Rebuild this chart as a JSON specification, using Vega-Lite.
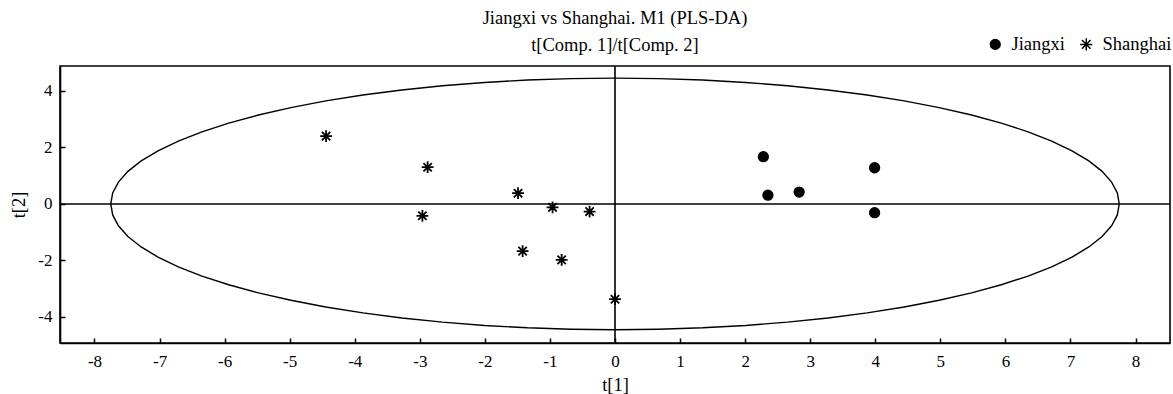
{
  "$schema": "https://vega.github.io/schema/vega-lite/v6.json",
  "width": 1110,
  "height": 277,
  "autosize": {"type": "none"},
  "padding": {"left": 60, "top": 66, "right": 3, "bottom": 51},
  "background": "white",
  "title": {
    "text": ["Jiangxi vs Shanghai. M1 (PLS-DA)", "t[Comp. 1]/t[Comp. 2]"],
    "font": "Liberation Serif",
    "fontSize": 18.5,
    "fontWeight": "normal",
    "color": "black",
    "lineHeight": 27,
    "anchor": "middle",
    "offset": 8,
    "dy": 27
  },
  "datasets": {
    "pts": [
      {"t1": 2.28, "t2": 1.67, "group": "Jiangxi"},
      {"t1": 2.35, "t2": 0.31, "group": "Jiangxi"},
      {"t1": 2.83, "t2": 0.42, "group": "Jiangxi"},
      {"t1": 3.99, "t2": 1.28, "group": "Jiangxi"},
      {"t1": 3.99, "t2": -0.31, "group": "Jiangxi"},
      {"t1": -4.44, "t2": 2.4, "group": "Shanghai"},
      {"t1": -2.88, "t2": 1.3, "group": "Shanghai"},
      {"t1": -2.96, "t2": -0.42, "group": "Shanghai"},
      {"t1": -1.49, "t2": 0.38, "group": "Shanghai"},
      {"t1": -0.96, "t2": -0.12, "group": "Shanghai"},
      {"t1": -0.39, "t2": -0.27, "group": "Shanghai"},
      {"t1": -1.42, "t2": -1.67, "group": "Shanghai"},
      {"t1": -0.82, "t2": -1.98, "group": "Shanghai"},
      {"t1": 0.0, "t2": -3.37, "group": "Shanghai"}
    ],
    "ell": [
      {"o": 0, "x": 7.75, "y": 0},
      {"o": 1, "x": 7.7205, "y": 0.3879},
      {"o": 2, "x": 7.6323, "y": 0.7727},
      {"o": 3, "x": 7.486, "y": 1.1517},
      {"o": 4, "x": 7.2826, "y": 1.522},
      {"o": 5, "x": 7.0239, "y": 1.8807},
      {"o": 6, "x": 6.7117, "y": 2.225},
      {"o": 7, "x": 6.3484, "y": 2.5524},
      {"o": 8, "x": 5.9368, "y": 2.8604},
      {"o": 9, "x": 5.4801, "y": 3.1466},
      {"o": 10, "x": 4.9816, "y": 3.4089},
      {"o": 11, "x": 4.4452, "y": 3.6452},
      {"o": 12, "x": 3.875, "y": 3.8538},
      {"o": 13, "x": 3.2753, "y": 4.0331},
      {"o": 14, "x": 2.6507, "y": 4.1816},
      {"o": 15, "x": 2.0059, "y": 4.2984},
      {"o": 16, "x": 1.3458, "y": 4.3824},
      {"o": 17, "x": 0.6755, "y": 4.433},
      {"o": 18, "x": 0, "y": 4.45},
      {"o": 19, "x": -0.6755, "y": 4.433},
      {"o": 20, "x": -1.3458, "y": 4.3824},
      {"o": 21, "x": -2.0059, "y": 4.2984},
      {"o": 22, "x": -2.6507, "y": 4.1816},
      {"o": 23, "x": -3.2753, "y": 4.0331},
      {"o": 24, "x": -3.875, "y": 3.8538},
      {"o": 25, "x": -4.4452, "y": 3.6452},
      {"o": 26, "x": -4.9816, "y": 3.4089},
      {"o": 27, "x": -5.4801, "y": 3.1466},
      {"o": 28, "x": -5.9368, "y": 2.8604},
      {"o": 29, "x": -6.3484, "y": 2.5524},
      {"o": 30, "x": -6.7117, "y": 2.225},
      {"o": 31, "x": -7.0239, "y": 1.8807},
      {"o": 32, "x": -7.2826, "y": 1.522},
      {"o": 33, "x": -7.486, "y": 1.1517},
      {"o": 34, "x": -7.6323, "y": 0.7727},
      {"o": 35, "x": -7.7205, "y": 0.3879},
      {"o": 36, "x": -7.75, "y": 0},
      {"o": 37, "x": -7.7205, "y": -0.3879},
      {"o": 38, "x": -7.6323, "y": -0.7727},
      {"o": 39, "x": -7.486, "y": -1.1517},
      {"o": 40, "x": -7.2826, "y": -1.522},
      {"o": 41, "x": -7.0239, "y": -1.8807},
      {"o": 42, "x": -6.7117, "y": -2.225},
      {"o": 43, "x": -6.3484, "y": -2.5524},
      {"o": 44, "x": -5.9368, "y": -2.8604},
      {"o": 45, "x": -5.4801, "y": -3.1466},
      {"o": 46, "x": -4.9816, "y": -3.4089},
      {"o": 47, "x": -4.4452, "y": -3.6452},
      {"o": 48, "x": -3.875, "y": -3.8538},
      {"o": 49, "x": -3.2753, "y": -4.0331},
      {"o": 50, "x": -2.6507, "y": -4.1816},
      {"o": 51, "x": -2.0059, "y": -4.2984},
      {"o": 52, "x": -1.3458, "y": -4.3824},
      {"o": 53, "x": -0.6755, "y": -4.433},
      {"o": 54, "x": 0, "y": -4.45},
      {"o": 55, "x": 0.6755, "y": -4.433},
      {"o": 56, "x": 1.3458, "y": -4.3824},
      {"o": 57, "x": 2.0059, "y": -4.2984},
      {"o": 58, "x": 2.6507, "y": -4.1816},
      {"o": 59, "x": 3.2753, "y": -4.0331},
      {"o": 60, "x": 3.875, "y": -3.8538},
      {"o": 61, "x": 4.4452, "y": -3.6452},
      {"o": 62, "x": 4.9816, "y": -3.4089},
      {"o": 63, "x": 5.4801, "y": -3.1466},
      {"o": 64, "x": 5.9368, "y": -2.8604},
      {"o": 65, "x": 6.3484, "y": -2.5524},
      {"o": 66, "x": 6.7117, "y": -2.225},
      {"o": 67, "x": 7.0239, "y": -1.8807},
      {"o": 68, "x": 7.2826, "y": -1.522},
      {"o": 69, "x": 7.486, "y": -1.1517},
      {"o": 70, "x": 7.6323, "y": -0.7727},
      {"o": 71, "x": 7.7205, "y": -0.3879},
      {"o": 72, "x": 7.75, "y": 0}
    ],
    "zero": [{"v": 0}]
  },
  "layer": [
    {
      "data": {"name": "ell"},
      "mark": {"type": "line", "color": "black", "strokeWidth": 1.4, "interpolate": "linear"},
      "encoding": {
        "x": {"field": "x", "type": "quantitative", "title": "t[1]",
              "scale": {"domain": [-8.53, 8.53], "nice": false, "zero": false},
              "axis": {"values": [-8, -7, -6, -5, -4, -3, -2, -1, 0, 1, 2, 3, 4, 5, 6, 7, 8], "labelExpr": "datum.value + ''", "labelPadding": 15, "titlePadding": 6}},
        "y": {"field": "y", "type": "quantitative", "title": "t[2]",
              "scale": {"domain": [-4.92, 4.88], "nice": false, "zero": false},
              "axis": {"values": [-4, -2, 0, 2, 4], "labelExpr": "datum.value + ''", "labelPadding": 13, "titlePadding": 9}},
        "order": {"field": "o", "type": "quantitative"}
      }
    },
    {
      "data": {"name": "zero"},
      "mark": {"type": "rule", "color": "black", "strokeWidth": 1.6},
      "encoding": {
        "x": {"field": "v", "type": "quantitative", "title": "t[1]"}
      }
    },
    {
      "data": {"name": "zero"},
      "mark": {"type": "rule", "color": "black", "strokeWidth": 1.6},
      "encoding": {
        "y": {"field": "v", "type": "quantitative", "title": "t[2]"}
      }
    },
    {
      "data": {"name": "pts"},
      "mark": {"type": "point", "filled": true, "color": "black", "stroke": "black", "strokeWidth": 1.8, "opacity": 1, "size": 90},
      "encoding": {
        "x": {"field": "t1", "type": "quantitative", "title": "t[1]"},
        "y": {"field": "t2", "type": "quantitative", "title": "t[2]"},
        "shape": {
          "field": "group",
          "type": "nominal",
          "scale": {"domain": ["Jiangxi", "Shanghai"], "range": ["circle", "M0,-1.25L0,1.25M-1.25,0L1.25,0M-0.88,-0.88L0.88,0.88M-0.88,0.88L0.88,-0.88"]},
          "legend": {
            "title": null,
            "orient": "none",
            "direction": "horizontal",
            "legendX": 926,
            "legendY": -31,
            "labelFont": "Liberation Serif",
            "labelFontSize": 18.5,
            "labelColor": "black",
            "symbolSize": 95,
            "columnPadding": 12,
            "labelOffset": 7,
            "encode": {
              "symbols": {
                "update": {
                  "fill": {"value": "black"},
                  "stroke": {"value": "black"},
                  "strokeWidth": {"value": 1.8},
                  "opacity": {"value": 1}
                }
              }
            }
          }
        }
      }
    }
  ],
  "config": {
    "view": {"stroke": "black", "strokeWidth": 1.6},
    "axis": {
      "grid": false,
      "domainColor": "black",
      "domainWidth": 1.6,
      "tickColor": "black",
      "tickWidth": 1.5,
      "tickSize": -5,
      "labelFont": "Liberation Serif",
      "labelFontSize": 17,
      "labelColor": "black",
      "titleFont": "Liberation Serif",
      "titleFontSize": 18.5,
      "titleFontWeight": "normal",
      "titleColor": "black"
    }
  }
}
